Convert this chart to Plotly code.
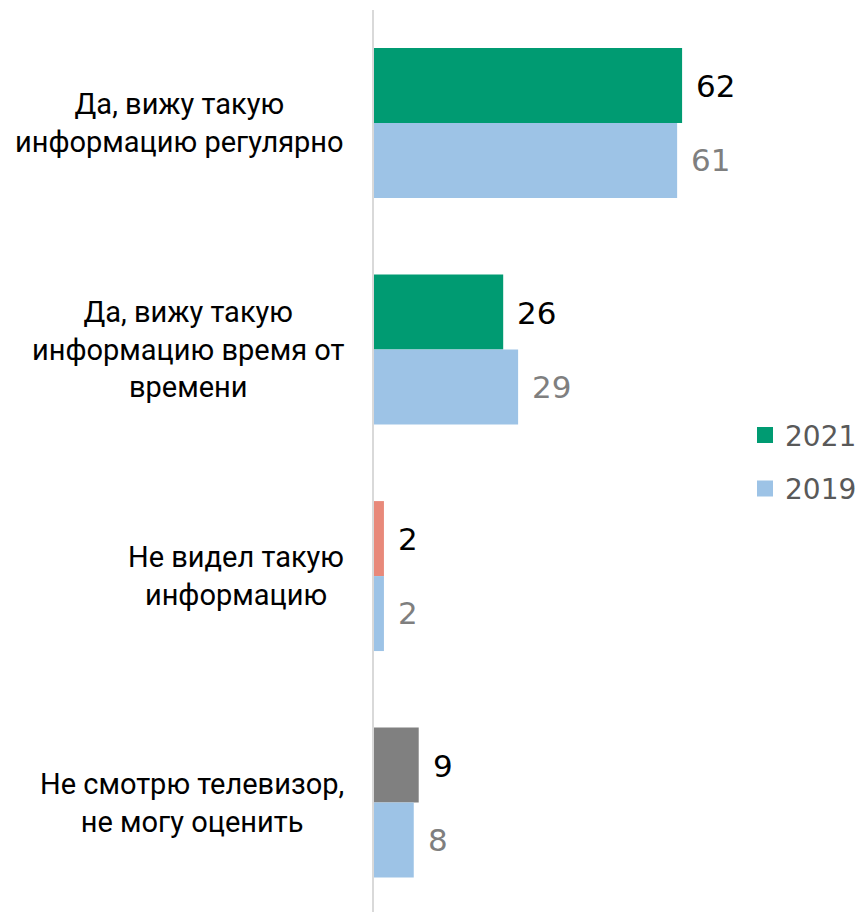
import plotly.graph_objects as go

categories = [
    "Да, вижу такую<br>информацию регулярно",
    "Да, вижу такую<br>информацию время от<br>времени",
    "Не видел такую<br>информацию",
    "Не смотрю телевизор,<br>не могу оценить",
]
values_2021 = [62, 26, 2, 9]
values_2019 = [61, 29, 2, 8]
colors_2021 = ["#009B72", "#009B72", "#E8897A", "#808080"]
color_2019 = "#9DC3E6"
series_names = ["2021", "2019"]

FONT = "Roboto"
NUM_FONT = "DejaVu Sans"
idx = list(range(len(categories)))

fig = go.Figure()
fig.add_trace(go.Bar(
    y=idx, x=values_2021, orientation="h", name=series_names[0],
    marker=dict(color=colors_2021, line=dict(width=0)),
    showlegend=False, hoverinfo="skip",
))
fig.add_trace(go.Bar(
    y=idx, x=values_2019, orientation="h", name=series_names[1],
    marker=dict(color=color_2019, line=dict(width=0)),
    showlegend=False, hoverinfo="skip",
))
# legend entries with larger square swatches
fig.add_trace(go.Scatter(
    x=[None], y=[None], mode="markers", name=series_names[0],
    marker=dict(symbol="square", size=16, color=colors_2021[0]),
    legendgroup="a",
))
fig.add_trace(go.Scatter(
    x=[None], y=[None], mode="markers", name=series_names[1],
    marker=dict(symbol="square", size=16, color=color_2019),
    legendgroup="b",
))

annotations = []
for i, cat in enumerate(categories):
    annotations.append(dict(
        x=-0.0574, xref="paper", y=i, yref="y", text=cat, showarrow=False,
        xanchor="right", yanchor="middle", align="center",
        font=dict(family=FONT, size=29, color="#000000"),
    ))
    annotations.append(dict(
        x=values_2021[i], y=i, xref="x", yref="y", text=str(values_2021[i]),
        showarrow=False, xanchor="left", yanchor="middle", xshift=12, yshift=37,
        font=dict(family=NUM_FONT, size=31, color="#000000"),
    ))
    annotations.append(dict(
        x=values_2019[i], y=i, xref="x", yref="y", text=str(values_2019[i]),
        showarrow=False, xanchor="left", yanchor="middle", xshift=12, yshift=-37,
        font=dict(family=NUM_FONT, size=31, color="#7F7F7F"),
    ))

fig.update_layout(
    width=862, height=912,
    margin=dict(l=374, r=0, t=10, b=0),
    paper_bgcolor="white", plot_bgcolor="white",
    barmode="group", bargap=0.338, bargroupgap=0,
    showlegend=True,
    legend=dict(
        x=0.765, xanchor="left", y=0.499, yanchor="middle",
        font=dict(family=NUM_FONT, size=28, color="#595959"),
        traceorder="grouped", tracegroupgap=14,
        itemwidth=30, bgcolor="rgba(0,0,0,0)",
    ),
    xaxis=dict(range=[0, 97.6], visible=False, fixedrange=True),
    yaxis=dict(
        range=[3.483, -0.499], showticklabels=False, showgrid=False,
        zeroline=False, showline=True, linecolor="#D9D9D9", linewidth=2,
        ticks="", fixedrange=True,
    ),
    annotations=annotations,
)

fig.write_html("out.html")
